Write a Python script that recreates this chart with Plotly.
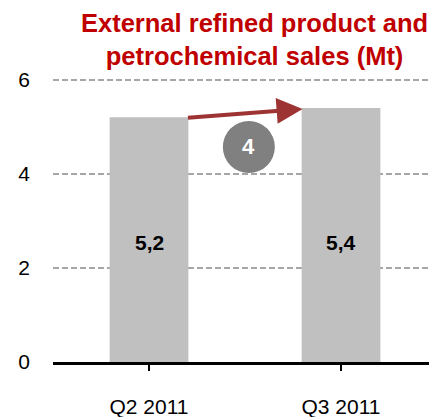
import plotly.graph_objects as go

categories = ["Q2 2011", "Q3 2011"]
values = [5.2, 5.4]
value_labels = ["5,2", "5,4"]
change_label = "4"
title_text = "External refined product and<br>petrochemical sales (Mt)"
y_ticks = [0, 2, 4, 6]

FONT = "Liberation Sans, Arial, sans-serif"

fig = go.Figure()
fig.add_trace(go.Bar(
    x=[0, 1], y=values, width=0.41,
    marker=dict(color="#C0C0C0", line=dict(width=0)),
    hoverinfo="skip",
))

# value labels inside bars
for i, (v, lab) in enumerate(zip(values, value_labels)):
    fig.add_annotation(x=i, y=2.53, text=f"<b>{lab}</b>", showarrow=False,
                       font=dict(family=FONT, size=21, color="black"),
                       xref="x", yref="y")

# arrow from bar 1 to bar 2
fig.add_annotation(x=0.80, y=5.38, ax=0.195, ay=5.19,
                   xref="x", yref="y", axref="x", ayref="y",
                   showarrow=True, arrowhead=2, arrowsize=1.3, arrowwidth=4,
                   arrowcolor="#9E3333", text="")

# circle with change number
cx, cy = 0.52, 4.57
rx, ry = 26 / 192, 26 / 47
fig.add_shape(type="circle", xref="x", yref="y",
              x0=cx - rx, x1=cx + rx, y0=cy - ry, y1=cy + ry,
              fillcolor="#808080", line=dict(color="#808080", width=0))
fig.add_annotation(x=cx, y=cy, text=f"<b>{change_label}</b>", showarrow=False,
                   font=dict(family=FONT, size=22, color="white"), xref="x", yref="y")

# title
fig.add_annotation(x=0.526, y=1.125, xref="paper", yref="paper",
                   xanchor="center", yanchor="middle", showarrow=False,
                   text=f"<b>{title_text}</b>",
                   font=dict(family=FONT, size=25.5, color="#C00000"))

fig.update_layout(
    width=429, height=409,
    margin=dict(l=45, r=0, t=67, b=55),
    paper_bgcolor="white", plot_bgcolor="white",
    showlegend=False,
    font=dict(family=FONT, size=21, color="black"),
)
fig.update_xaxes(
    tickmode="array", tickvals=[0, 1], ticktext=categories,
    range=[-0.5, 1.5], showgrid=False,
    showline=True, linecolor="black", linewidth=2.5,
    tickson="boundaries", ticks="outside", ticklen=6, tickwidth=2, tickcolor="black",
    tickfont=dict(family=FONT, size=21, color="black"),
    ticklabelstandoff=18,
)
fig.update_yaxes(
    range=[0, 6.1], tickvals=y_ticks, showgrid=True,
    gridcolor="#A6A6A6", griddash="6px,3px", gridwidth=2,
    zeroline=False, showline=False, ticks="",
    tickfont=dict(family=FONT, size=21, color="black"),
    ticklabelstandoff=22,
)

fig.write_html("out.html")
